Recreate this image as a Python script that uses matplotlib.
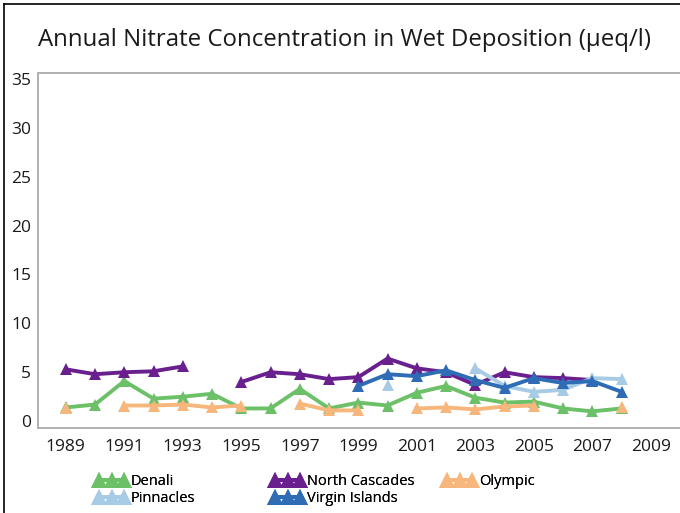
import numpy as np
import matplotlib
matplotlib.use('agg')
import matplotlib.pyplot as plt
from matplotlib.lines import Line2D

plt.rcParams['font.family'] = ['Open Sans', 'DejaVu Sans']

# Annual nitrate concentration (ueq/l); None = no data
years = list(range(1989, 2009))

denali = [1.4, 1.7, 4.1, 2.3, 2.5, 2.8, 1.3, 1.3, 3.3, 1.3,
          1.9, 1.6, 2.9, 3.6, 2.4, 1.9, 2.0, 1.3, 1.0, 1.3]
north_cascades = [5.3, 4.8, 5.0, 5.1, 5.6, None, 4.0, 5.0, 4.8, 4.3,
                  4.5, 6.4, 5.4, 5.0, 3.7, 5.0, 4.5, 4.4, 4.2, None]
olympic = [1.3, None, 1.6, 1.6, 1.7, 1.4, 1.6, None, 1.8, 1.1,
           1.1, None, 1.3, 1.4, 1.2, 1.5, 1.6, None, None, 1.4]
pinnacles = [None, None, None, None, None, None, None, None, None, None,
             None, 3.7, None, None, 5.4, 3.6, 3.0, 3.2, 4.4, 4.3]
virgin_islands = [None, None, None, None, None, None, None, None, None, None,
                  3.6, 4.8, 4.6, 5.2, 4.2, 3.4, 4.4, 3.9, 4.1, 3.0]

series = [
    ('Denali', denali, '#6cc068'),
    ('North Cascades', north_cascades, '#6a1f8f'),
    ('Olympic', olympic, '#f7b77c'),
    ('Pinnacles', pinnacles, '#a8cbe5'),
    ('Virgin Islands', virgin_islands, '#2f6cb6'),
]

fig = plt.figure(figsize=(6.8, 5.13), dpi=100)
ax = fig.add_axes([38 / 680, 1 - 428 / 513, 1 - 38 / 680, (428 - 73) / 513])

for name, vals, color in series:
    y = np.array([np.nan if v is None else v for v in vals], dtype=float)
    ax.plot(years, y, color=color, lw=2.8, marker='^', ms=9,
            markeredgewidth=0, label=name, solid_joinstyle='round')

ax.set_xlim(1988.05, 2010.0)
ax.set_ylim(-0.7, 35.6)
ax.set_xticks(range(1989, 2010, 2))
ax.set_yticks(range(0, 36, 5))
ax.tick_params(length=0, labelsize=12.5, colors='#1a1a1a', pad=5)
ax.tick_params(axis='x', pad=8)
for side in ('left', 'top', 'bottom'):
    ax.spines[side].set_color('#b0b0b0')
    ax.spines[side].set_linewidth(1.4)
ax.spines['right'].set_visible(False)

fig.text(38 / 680, 1 - 40 / 513, 'Annual Nitrate Concentration in Wet Deposition (\u03bceq/l)',
         fontsize=17.3, va='center', ha='left', color='#1a1a1a')

# outer frame (top and left edges)
fig.add_artist(Line2D([4 / 680, 4 / 680], [0, 1 - 4 / 513], color='black', lw=1.2,
                      transform=fig.transFigure))
fig.add_artist(Line2D([4 / 680, 1], [1 - 4 / 513, 1 - 4 / 513], color='black', lw=1.2,
                      transform=fig.transFigure))

handles = {h.get_label(): h for h in ax.get_lines()}
cols = [(['Denali', 'Pinnacles'], 95), (['North Cascades', 'Virgin Islands'], 271),
        (['Olympic'], 443)]
for names, x0 in cols:
    leg = fig.legend([handles[n] for n in names], names, loc='upper left',
                     bbox_to_anchor=(x0 / 680, 1 - 474 / 513), frameon=False,
                     numpoints=3, handlelength=2.3, handletextpad=0.15,
                     labelspacing=0.15, fontsize=10.5, borderpad=0,
                     borderaxespad=0, markerscale=1.3)
    fig.add_artist(leg)

fig.savefig('out.png', dpi=100)
